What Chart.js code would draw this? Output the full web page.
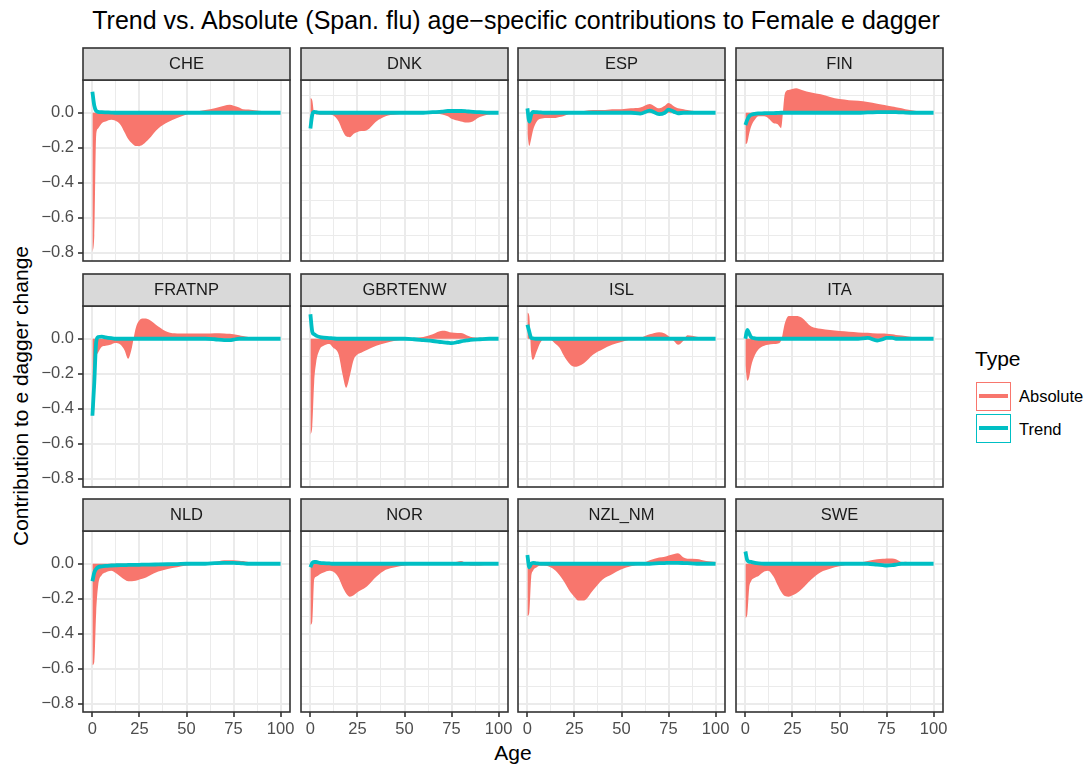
<!DOCTYPE html>
<html>
<head>
<meta charset="utf-8">
<script src="https://cdn.jsdelivr.net/npm/chart.js@4.4.1/dist/chart.umd.min.js"></script>
<style>
  body { margin: 0; background: #fff; width: 1091px; height: 767px; position: relative; overflow: hidden;
         font-family: "Liberation Sans", Arial, sans-serif; }
  canvas { position: absolute; }
  .txt { position: absolute; white-space: nowrap; line-height: 1; }
  .key { position: absolute; width: 35px; height: 29px; box-sizing: border-box; }
  .key span { position: absolute; left: 2px; right: 2px; top: 11px; height: 4px; }
</style>
</head>
<body>
<div class="txt" style="left:0;width:1032px;top:8px;text-align:center;font-size:25px;color:#000">Trend vs. Absolute (Span. flu) age−specific contributions to Female e dagger</div>
<div class="txt" style="left:20px;top:396px;font-size:21px;color:#000;transform:translate(-50%,-50%) rotate(-90deg)">Contribution to e dagger change</div>
<div class="txt" style="left:513px;top:752px;font-size:21px;color:#000;transform:translate(-50%,-50%)">Age</div>

<div class="txt" style="left:975px;top:348px;font-size:21px;color:#000">Type</div>
<div class="key" style="left:976px;top:382px;border:1.5px solid #F8766D"><span style="background:#F8766D"></span></div>
<div class="key" style="left:976px;top:414px;border:1.5px solid #00BFC4"><span style="background:#00BFC4"></span></div>
<div class="txt" style="left:1019px;top:388px;font-size:16.5px;color:#000">Absolute</div>
<div class="txt" style="left:1019px;top:421px;font-size:16.5px;color:#000">Trend</div>

<script>
// 国家 / 年龄
const countries = ['CHE', 'DNK', 'ESP', 'FIN', 'FRATNP', 'GBRTENW', 'ISL', 'ITA', 'NLD', 'NOR', 'NZL_NM', 'SWE'];
const ages = [0, 1, 2, 3, 5, 7, 10, 12, 15, 17, 19, 21, 23, 25, 27, 30, 35, 40, 45, 50, 55, 60, 65, 70, 73, 75, 78, 80, 83, 85, 90, 95, 100];

// Absolute 贡献
const absCHE = [-0.80, -0.70, -0.13, -0.09, -0.06, -0.05, -0.04, -0.045, -0.07, -0.11, -0.15, -0.175, -0.19, -0.19, -0.18, -0.15, -0.09, -0.055, -0.03, -0.01, 0.005, 0.015, 0.025, 0.04, 0.045, 0.04, 0.03, 0.02, 0.018, 0.015, 0.01, 0.005, 0];
const absDNK = [0.085, 0.07, -0.005, -0.01, -0.01, -0.01, -0.01, -0.015, -0.05, -0.10, -0.135, -0.14, -0.12, -0.11, -0.105, -0.10, -0.05, -0.02, -0.01, -0.005, 0, 0, -0.005, -0.01, -0.02, -0.035, -0.045, -0.05, -0.056, -0.055, -0.025, -0.008, 0];
const absESP = [-0.12, -0.19, -0.15, -0.10, -0.05, -0.035, -0.03, -0.03, -0.03, -0.025, -0.02, -0.012, -0.005, 0, 0.005, 0.01, 0.015, 0.015, 0.02, 0.02, 0.025, 0.03, 0.05, 0.025, 0.04, 0.055, 0.035, 0.025, 0.02, 0.015, 0.008, 0.005, 0];
const absFIN = [-0.18, -0.17, -0.12, -0.08, -0.04, -0.02, -0.02, -0.03, -0.06, -0.065, -0.088, 0.11, 0.13, 0.135, 0.14, 0.13, 0.115, 0.105, 0.09, 0.078, 0.072, 0.068, 0.062, 0.052, 0.046, 0.042, 0.036, 0.032, 0.025, 0.02, 0.012, 0.005, 0];
const absFRATNP = [-0.43, -0.40, -0.12, -0.08, -0.046, -0.04, -0.033, -0.025, -0.035, -0.065, -0.115, -0.05, 0.06, 0.105, 0.115, 0.11, 0.07, 0.038, 0.03, 0.03, 0.03, 0.03, 0.032, 0.03, 0.028, 0.025, 0.02, 0.015, 0.01, 0.008, 0.005, 0.002, 0];
const absGBRTENW = [-0.55, -0.50, -0.25, -0.14, -0.06, -0.04, -0.03, -0.05, -0.09, -0.20, -0.28, -0.21, -0.12, -0.09, -0.08, -0.065, -0.04, -0.025, -0.012, -0.005, 0.005, 0.01, 0.025, 0.045, 0.042, 0.035, 0.033, 0.033, 0.02, 0.012, 0.005, 0.002, 0];
const absISL = [0.15, 0.13, -0.08, -0.12, -0.07, -0.02, 0.01, 0, -0.03, -0.05, -0.09, -0.125, -0.15, -0.16, -0.157, -0.14, -0.09, -0.06, -0.035, -0.018, -0.005, 0.005, 0.025, 0.037, 0.03, 0.015, -0.015, -0.035, -0.01, 0.02, 0.012, 0.003, 0];
const absITA = [-0.15, -0.24, -0.22, -0.16, -0.095, -0.06, -0.04, -0.035, -0.03, -0.028, -0.01, 0.09, 0.13, 0.13, 0.13, 0.12, 0.07, 0.057, 0.05, 0.044, 0.04, 0.036, 0.034, 0.03, 0.03, 0.029, 0.025, 0.022, 0.018, 0.015, 0.008, 0.003, 0];
const absNLD = [-0.58, -0.56, -0.28, -0.13, -0.065, -0.05, -0.04, -0.05, -0.075, -0.09, -0.10, -0.10, -0.097, -0.09, -0.085, -0.07, -0.045, -0.03, -0.02, -0.01, -0.005, 0, 0.01, 0.02, 0.02, 0.02, 0.017, 0.015, 0.01, 0.005, -0.005, 0, 0];
const absNOR = [-0.35, -0.33, -0.09, -0.075, -0.06, -0.05, -0.04, -0.045, -0.08, -0.13, -0.17, -0.188, -0.18, -0.163, -0.15, -0.13, -0.075, -0.035, -0.02, -0.01, -0.005, 0.005, 0.01, 0.01, 0.008, 0.005, 0.012, 0.015, 0, -0.01, -0.01, -0.003, 0];
const absNZL = [-0.30, -0.28, -0.08, -0.04, -0.02, -0.01, -0.012, -0.018, -0.04, -0.065, -0.095, -0.13, -0.165, -0.19, -0.21, -0.21, -0.15, -0.09, -0.06, -0.032, -0.015, -0.003, 0.02, 0.035, 0.04, 0.047, 0.055, 0.06, 0.035, 0.028, 0.027, 0.015, 0.01];
const absSWE = [-0.31, -0.29, -0.14, -0.10, -0.08, -0.07, -0.045, -0.04, -0.075, -0.12, -0.16, -0.185, -0.188, -0.18, -0.17, -0.145, -0.09, -0.048, -0.028, -0.015, -0.005, 0.005, 0.015, 0.025, 0.028, 0.03, 0.03, 0.025, 0.01, 0.012, 0.005, 0.002, 0];

// Trend 贡献
const trendCHE = [0.12, 0.04, 0.01, 0.005, 0.003, 0.002, 0.001, 0, 0, 0, 0, 0, 0, 0, 0, 0, 0, 0, 0, 0, 0, 0, 0, 0, 0, 0, 0, 0, 0, 0, 0, 0, 0];
const trendDNK = [-0.09, -0.01, 0.005, 0.003, 0, 0, 0, 0, 0, 0, 0, 0, 0, 0, 0, 0, 0, 0, 0, 0, 0, 0, 0.003, 0.006, 0.01, 0.01, 0.01, 0.01, 0.008, 0.006, 0.003, 0, 0];
const trendESP = [0.025, -0.05, -0.01, 0.005, 0.003, 0.002, 0, 0, 0, 0, 0, 0, 0, 0, 0, 0, 0, 0, 0, 0, 0, -0.005, 0.012, -0.008, 0, 0.018, 0.005, -0.003, 0, 0, 0, 0, 0];
const trendFIN = [-0.07, -0.04, -0.02, -0.012, -0.006, -0.004, -0.003, -0.002, -0.002, -0.001, 0, 0, 0, 0, 0, 0, 0, 0, 0, 0, 0, 0, 0.002, 0.003, 0.004, 0.004, 0.004, 0.003, 0.002, 0.001, 0, 0, 0];
const trendFRATNP = [-0.44, -0.25, -0.02, 0.01, 0.012, 0.008, 0.003, 0, 0, 0, 0, 0, 0, 0, 0, 0, 0, 0, 0, 0, 0, 0, -0.003, -0.008, -0.008, -0.005, 0, 0, 0, 0, 0, 0, 0];
const trendGBRTENW = [0.14, 0.04, 0.025, 0.018, 0.01, 0.006, 0.004, 0.002, 0, 0, 0, 0, 0, 0, 0, 0, 0, 0, 0, 0, -0.003, -0.008, -0.013, -0.02, -0.023, -0.025, -0.02, -0.015, -0.01, -0.007, -0.003, 0, 0];
const trendISL = [0.08, 0.04, 0.005, 0.002, 0, 0, 0, 0, 0, 0, 0, 0, 0, 0, 0, 0, 0, 0, 0, 0, 0, 0, 0, 0, 0, 0, 0, 0, 0, 0, 0, 0, 0];
const trendITA = [0, 0.05, 0.03, 0.01, 0.002, 0, 0, 0, 0, 0, 0, 0, 0, 0, 0, 0, 0, 0, 0, 0, 0, 0, 0.005, -0.01, -0.003, 0.005, 0.005, 0, 0, 0, 0, 0, 0];
const trendNLD = [-0.10, -0.05, -0.03, -0.02, -0.015, -0.012, -0.01, -0.009, -0.008, -0.008, -0.007, -0.007, -0.006, -0.006, -0.005, -0.005, -0.004, -0.003, -0.002, 0, 0, 0, 0.003, 0.005, 0.005, 0.005, 0.003, 0.002, 0, 0, 0, 0, 0];
const trendNOR = [-0.02, 0.005, 0.01, 0.01, 0.005, 0.003, 0.002, 0, 0, 0, 0, 0, 0, 0, 0, 0, 0, 0, 0, 0, 0, 0, 0, 0, 0, 0, 0, 0, 0, 0, 0, 0, 0];
const trendNZL = [0.05, -0.02, 0, 0.005, 0.002, 0, 0, 0, 0, 0, 0, 0, 0, 0, 0, 0, 0, 0, 0, 0, 0, 0, 0, 0.003, 0.004, 0.005, 0.005, 0.005, 0.004, 0.003, 0, 0, 0];
const trendSWE = [0.07, 0.02, 0.012, 0.01, 0.005, 0.002, 0, 0, 0, 0, 0, 0, 0, 0, 0, 0, 0, 0, 0, 0, 0, 0, 0, -0.005, -0.008, -0.01, -0.008, -0.005, 0, 0, 0, 0, 0];

// 刻度
const xTicks = [0, 12.5, 25, 37.5, 50, 62.5, 75, 87.5, 100];
const xLabels = [0, 25, 50, 75, 100];
const yTicks = [-0.8, -0.7, -0.6, -0.5, -0.4, -0.3, -0.2, -0.1, 0, 0.1];
const yLabels = [-0.8, -0.6, -0.4, -0.2, 0];

const absolute = [absCHE, absDNK, absESP, absFIN, absFRATNP, absGBRTENW, absISL, absITA, absNLD, absNOR, absNZL, absSWE];
const trend = [trendCHE, trendDNK, trendESP, trendFIN, trendFRATNP, trendGBRTENW, trendISL, trendITA, trendNLD, trendNOR, trendNZL, trendSWE];

Chart.defaults.font.family = '"Liberation Sans", Arial, sans-serif';

// 面板布局
const panelLeft = [83, 301, 518, 736];
const panelTop = [80, 306, 531];
const panelW = 207, panelH = 181, stripH = 33;
const AXW = 50, AXH = 34, PADR = 16;

const GRID = '#EBEBEB', DARK = '#333333';

// 条带 + 边框
const panelDeco = {
    id: 'panelDeco',
    afterDatasetsDraw(chart, args, opts) {
        const { ctx, chartArea: a } = chart;
        ctx.save();
        ctx.strokeStyle = DARK;
        ctx.lineWidth = 1.6;
        ctx.strokeRect(a.left, a.top, a.right - a.left, a.bottom - a.top);
        ctx.fillStyle = '#D9D9D9';
        ctx.fillRect(a.left, a.top - stripH + 1, a.right - a.left, stripH - 1);
        ctx.strokeRect(a.left, a.top - stripH + 1, a.right - a.left, stripH - 1);
        ctx.fillStyle = '#1A1A1A';
        ctx.font = '16.5px "Liberation Sans", Arial, sans-serif';
        ctx.textAlign = 'center';
        ctx.textBaseline = 'middle';
        ctx.fillText(opts.label, (a.left + a.right) / 2, a.top - stripH / 2 + 1);
        ctx.restore();
    }
};

const isMajor = v => Math.abs(Math.round(v * 10)) % 2 === 0;
const minus = v => v < 0 ? '\u2212' + Math.abs(v).toFixed(1) : v.toFixed(1);

countries.forEach((name, i) => {
    const col = i % 4, row = Math.floor(i / 4);
    const isLeft = col === 0, isBottom = row === 2;

    const cv = document.createElement('canvas');
    cv.width = AXW + panelW + PADR;
    cv.height = stripH + panelH + AXH;
    cv.style.left = (panelLeft[col] - AXW) + 'px';
    cv.style.top = (panelTop[row] - stripH) + 'px';
    document.body.appendChild(cv);

    new Chart(cv, {
        type: 'line',
        data: {
            datasets: [{
                label: 'Trend',
                data: ages.map((a, k) => ({ x: a, y: trend[i][k] })),
                borderColor: '#00BFC4',
                borderWidth: 3.8,
                pointRadius: 0,
                fill: false,
                cubicInterpolationMode: 'monotone',
                order: 0
            }, {
                label: 'Absolute',
                data: ages.map((a, k) => ({ x: a, y: absolute[i][k] })),
                borderColor: 'rgba(0,0,0,0)',
                borderWidth: 0,
                backgroundColor: '#F8766D',
                pointRadius: 0,
                fill: 'origin',
                cubicInterpolationMode: 'monotone',
                order: 1
            }]
        },
        options: {
            responsive: false,
            animation: false,
            events: [],
            layout: { padding: { left: 0, top: stripH, right: PADR, bottom: 0 } },
            plugins: {
                legend: { display: false },
                tooltip: { enabled: false },
                panelDeco: { label: name }
            },
            scales: {
                x: {
                    type: 'linear',
                    min: -5,
                    max: 105,
                    bounds: 'data',
                    afterBuildTicks: s => { s.ticks = xTicks.map(v => ({ value: v })); },
                    afterFit: s => { s.height = AXH; },
                    border: { display: false },
                    grid: {
                        color: GRID,
                        lineWidth: c => (c.tick && xLabels.includes(c.tick.value)) ? 2 : 1,
                        drawTicks: isBottom,
                        tickLength: 5,
                        tickWidth: 1.6,
                        tickColor: c => (c.tick && xLabels.includes(c.tick.value)) ? DARK : 'rgba(0,0,0,0)'
                    },
                    ticks: {
                        display: isBottom,
                        autoSkip: false,
                        maxRotation: 0,
                        padding: 3,
                        color: '#4D4D4D',
                        font: { size: 16.5 },
                        callback: v => xLabels.includes(v) ? String(v) : ''
                    }
                },
                y: {
                    type: 'linear',
                    min: -0.847,
                    max: 0.187,
                    bounds: 'data',
                    afterBuildTicks: s => { s.ticks = yTicks.map(v => ({ value: v })); },
                    afterFit: s => { s.width = AXW; },
                    border: { display: false },
                    grid: {
                        color: GRID,
                        lineWidth: c => (c.tick && isMajor(c.tick.value)) ? 2 : 1,
                        drawTicks: isLeft,
                        tickLength: 5,
                        tickWidth: 1.6,
                        tickColor: c => (c.tick && isMajor(c.tick.value)) ? DARK : 'rgba(0,0,0,0)'
                    },
                    ticks: {
                        display: isLeft,
                        padding: 4,
                        color: '#4D4D4D',
                        font: { size: 16.5 },
                        callback: v => isMajor(v) ? minus(v) : ''
                    }
                }
            }
        },
        plugins: [panelDeco]
    });
});
</script>
</body>
</html>
